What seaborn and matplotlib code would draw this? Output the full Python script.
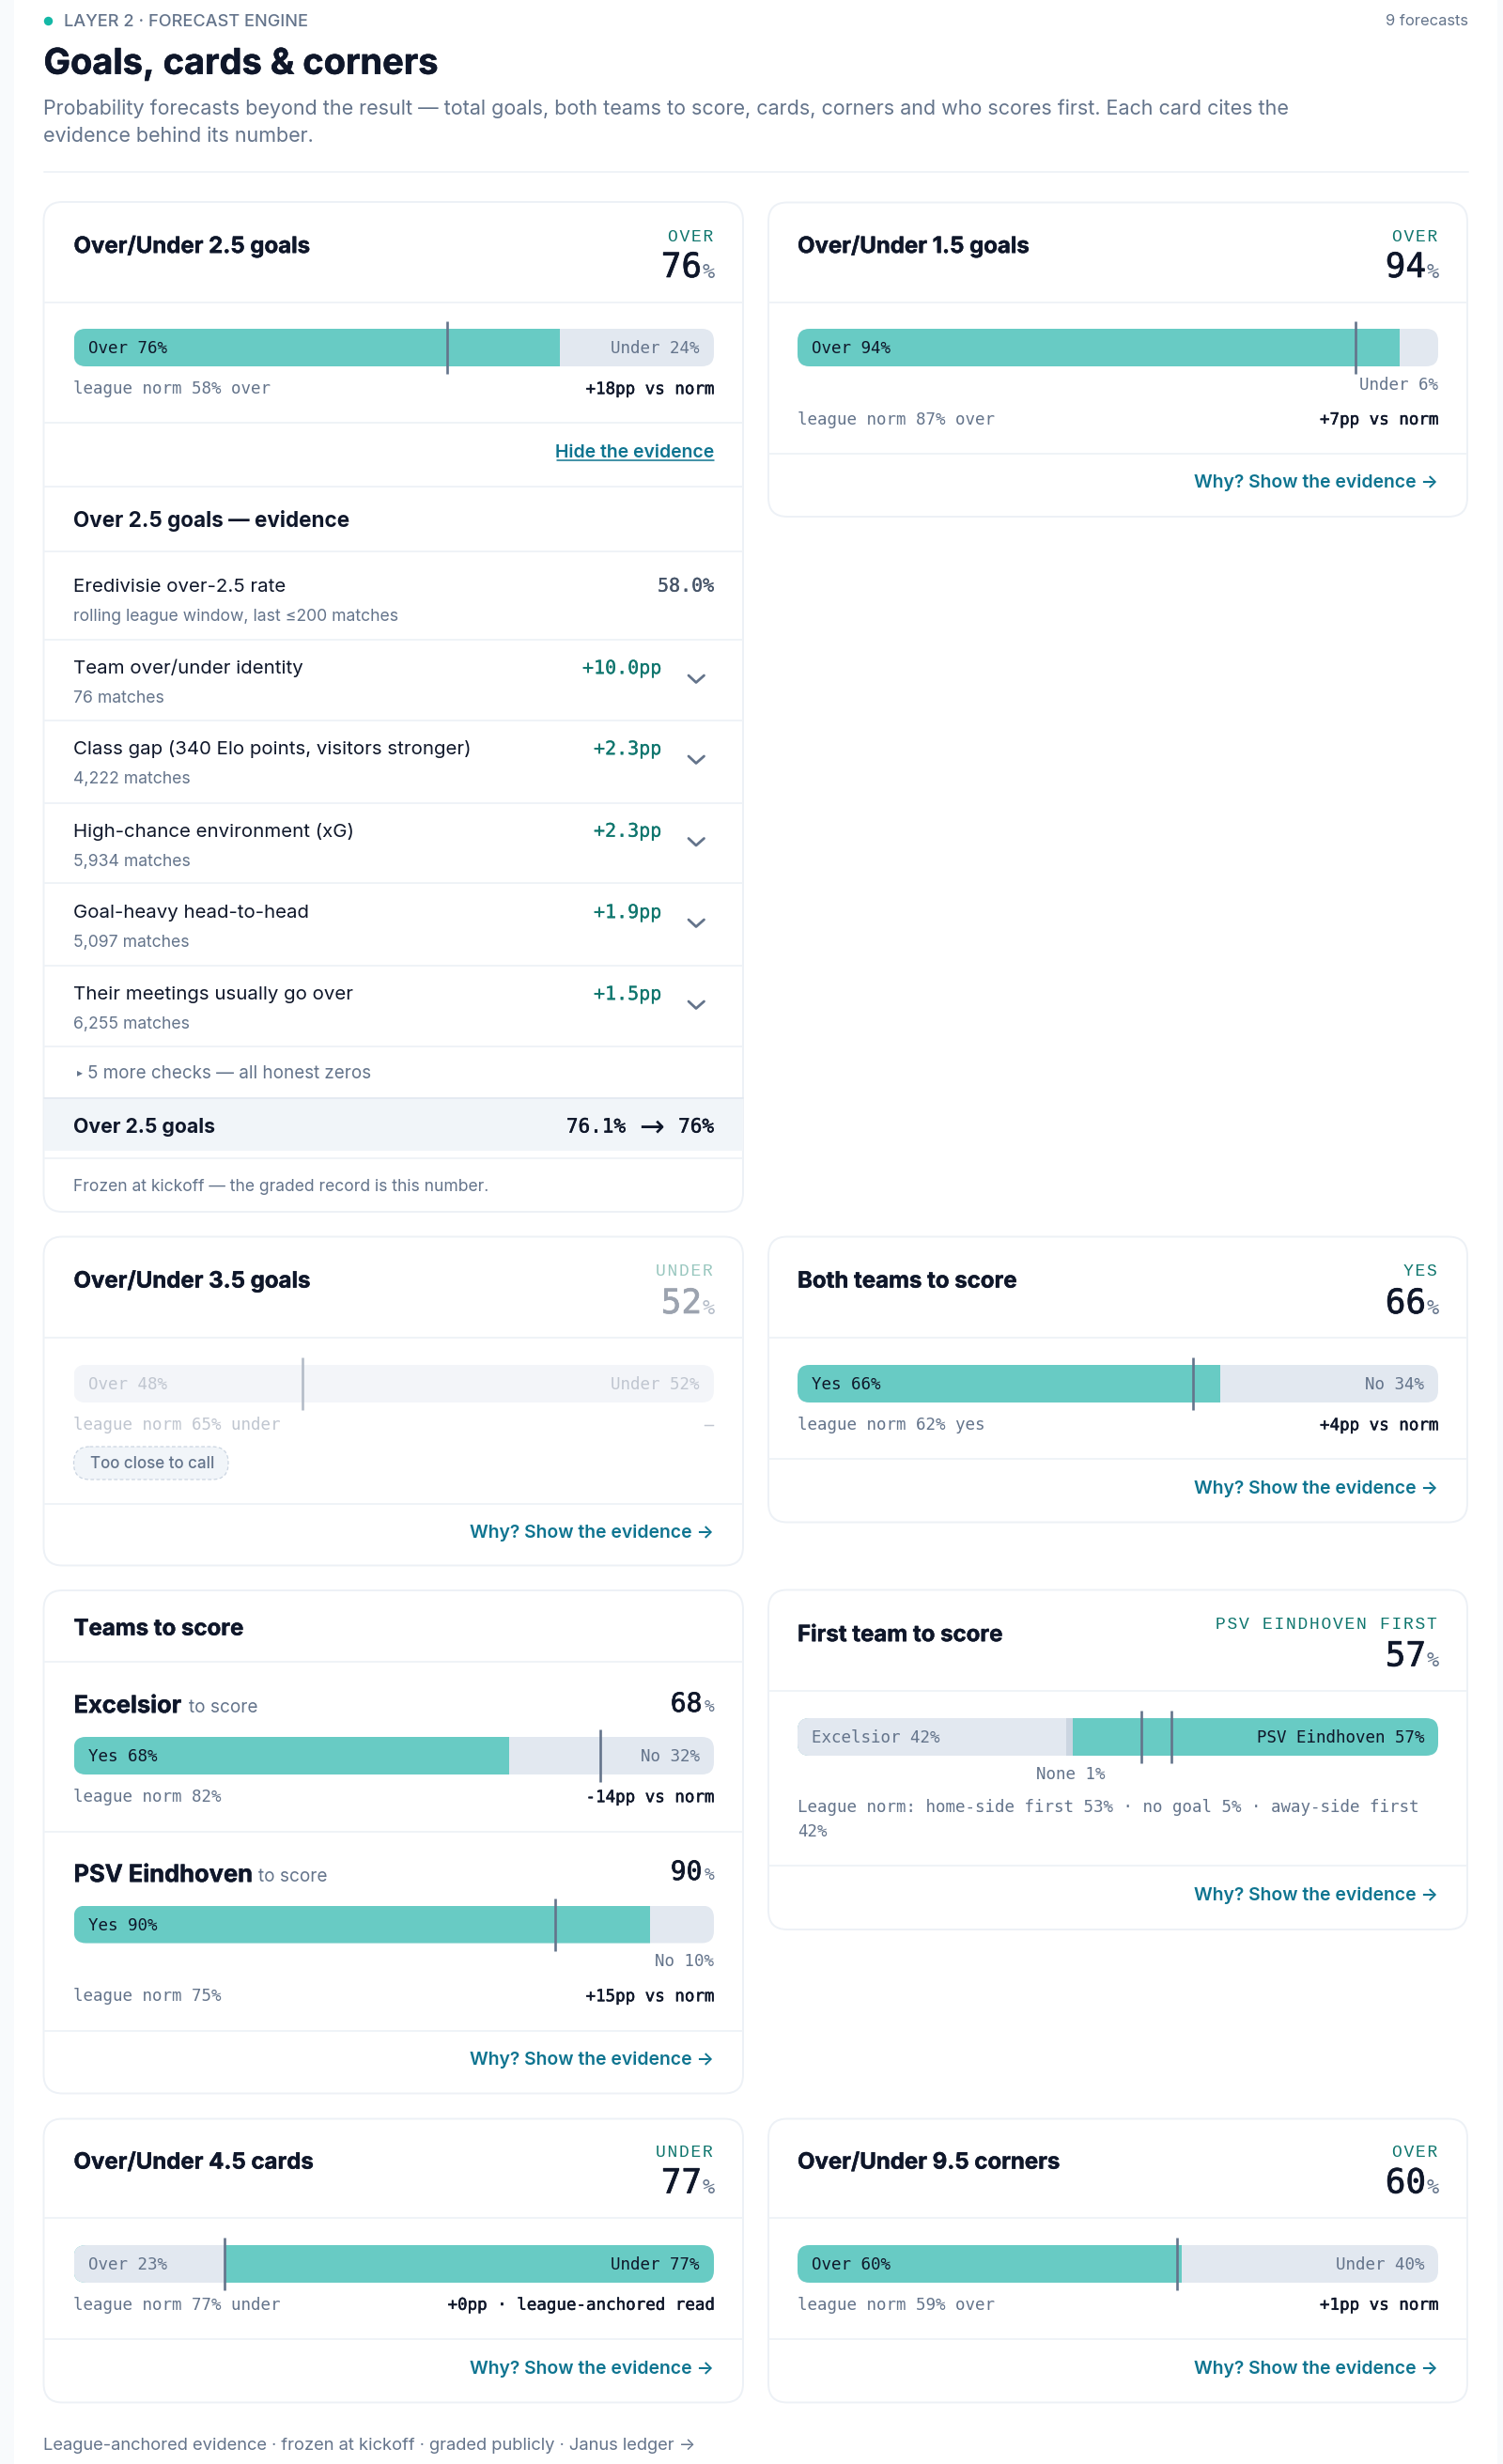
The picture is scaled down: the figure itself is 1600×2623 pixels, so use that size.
import matplotlib
matplotlib.use("Agg")
import matplotlib.pyplot as plt
import matplotlib.patheffects as pe
from matplotlib.patches import FancyBboxPatch, Rectangle
import seaborn as sns

sns.set_theme(style="white")
plt.rcParams["font.family"] = ["Inter", "DejaVu Sans"]

# forecast values
CARD_TITLES = ["Over/Under 2.5 goals", "Over/Under 1.5 goals", "Over/Under 3.5 goals",
               "Both teams to score", "First team to score", "Over/Under 4.5 cards",
               "Over/Under 9.5 corners"]
PICK_NAMES = ["OVER", "OVER", "UNDER", "YES", "PSV EINDHOVEN FIRST", "UNDER", "OVER"]
PICK_PCTS = [76, 94, 52, 66, 57, 77, 60]

BAR_SHARES = [[76, 24], [94, 6], [48, 52], [66, 34], [68, 32], [90, 10], [42, 1, 57], [23.5, 76.5], [60, 40]]
BAR_PICK = [0, 0, None, 0, 0, 0, 2, 1, 0]
BAR_NORMS = [[58.3], [87.1], [35.8], [61.7], [82.2], [75.2], [53.6, 58.3], [23.5], [59.3]]
BAR_LABELS = [["Over 76%", "Under 24%"], ["Over 94%", "Under 6%"], ["Over 48%", "Under 52%"],
              ["Yes 66%", "No 34%"], ["Yes 68%", "No 32%"], ["Yes 90%", "No 10%"],
              ["Excelsior 42%", "None 1%", "PSV Eindhoven 57%"],
              ["Over 23%", "Under 77%"], ["Over 60%", "Under 40%"]]
NORM_TEXTS = ["league norm 58% over", "league norm 87% over", "league norm 65% under",
              "league norm 62% yes", "league norm 82%", "league norm 75%",
              "League norm: home-side first 53% · no goal 5% · away-side first", "league norm 77% under",
              "league norm 59% over"]
DELTA_TEXTS = ["+18pp vs norm", "+7pp vs norm", "—", "+4pp vs norm", "-14pp vs norm", "+15pp vs norm",
               "", "+0pp · league-anchored read", "+1pp vs norm"]

TEAM_NAMES = ["Excelsior", "PSV Eindhoven"]
TEAM_PCTS = [68, 90]

EVIDENCE_NAMES = ["Eredivisie over-2.5 rate", "Team over/under identity",
                  "Class gap (340 Elo points, visitors stronger)", "High-chance environment (xG)",
                  "Goal-heavy head-to-head", "Their meetings usually go over"]
EVIDENCE_NOTES = ["rolling league window, last ≤200 matches", "76 matches", "4,222 matches",
                  "5,934 matches", "5,097 matches", "6,255 matches"]
EVIDENCE_VALUES = ["58.0%", "+10.0pp", "+2.3pp", "+2.3pp", "+1.9pp", "+1.5pp"]

W, H = 1600, 2623
INK = "#0f172a"
SLATE = "#64748b"
TEAL = "#68cbc4"
TRACK = "#e2e8f0"
LINE = "#eff3f7"
LINK = "#0e7490"
PICKED = "#0f766e"
MONO = "DejaVu Sans Mono"
# col: card left, card right, text left, text right
COLS = [(46.5, 791, 78.5, 760), (818, 1562, 849, 1531)]

fig = plt.figure(figsize=(W / 100, H / 100), dpi=100, facecolor="#f8fafc")


def px_axes(x0, y0, x1, y1, z):
    a = fig.add_axes([x0 / W, 1 - y1 / H, (x1 - x0) / W, (y1 - y0) / H], zorder=z)
    a.patch.set_alpha(0)
    a.axis("off")
    return a


bg = px_axes(0, 0, W, H, 0)
bg.set_xlim(0, W)
bg.set_ylim(H, 0)
top = px_axes(0, 0, W, H, 5)
top.set_xlim(0, W)
top.set_ylim(H, 0)


def put(x, yc, s, px, color=INK, ha="left", family=None, weight="normal", bold=0):
    # yc is the middle of the capitals, px the css-like size
    t = top.text(x, yc + 0.36 * px, s, fontsize=px * 0.72, color=color, ha=ha, va="baseline",
                 family=family or ["Inter", "DejaVu Sans"], weight=weight)
    if bold:
        t.set_path_effects([pe.withStroke(linewidth=bold, foreground=color)])
    return t


def card(col, y0, y1, rules):
    x0, x1, _, _ = COLS[col]
    bg.add_patch(FancyBboxPatch((x0, y0), x1 - x0, y1 - y0, boxstyle="round,pad=0,rounding_size=20",
                                fc="white", ec="#edf1f6", lw=1.4))
    for y in rules:
        bg.plot([x0, x1], [y, y], color=LINE, lw=1.4, solid_capstyle="butt")


def header(col, i, y_title, y_pick, y_num, faded=False):
    _, _, L, R = COLS[col]
    put(L, y_title, CARD_TITLES[i], 24, weight="bold", bold=0.3)
    spaced = "\u200a".join(PICK_NAMES[i])
    put(R - 1, y_pick, spaced, 18, color="#99c7bf" if faded else PICKED, ha="right",
        family=["Liberation Mono", "DejaVu Sans"])
    put(R - 13, y_num, str(PICK_PCTS[i]), 36, color="#9ca3af" if faded else INK, ha="right", family=MONO, bold=0.5)
    put(R + 1, y_num + 6, "%", 22, color="#b4bcc8" if faded else SLATE, ha="right", family=MONO)


def draw_bar(col, y0, i, faded=False):
    _, _, L, R = COLS[col]
    shares = BAR_SHARES[i]
    pick = BAR_PICK[i]
    ends = [sum(shares[:k + 1]) for k in range(len(shares))]
    colors = [TEAL if k == pick else TRACK for k in range(len(shares))]
    if len(shares) == 3:
        colors[1] = "#cbd5e1"
    if faded:
        colors = ["#f3f5f9"] * len(shares)
    a = px_axes(L, y0, R, y0 + 40, 1)
    # longest first so the shorter bars stack on top of it
    for end, c in reversed(list(zip(ends, colors))):
        sns.barplot(x=[end], y=[0], orient="h", color=c, saturation=1, width=1, linewidth=0, ax=a)
    a.set_xlim(0, 100)
    a.set_ylim(0.5, -0.5)
    a.axis("off")
    clip = FancyBboxPatch((L, y0), R - L, 40, boxstyle="round,pad=0,rounding_size=13", transform=bg.transData)
    for p in a.patches:
        p.set_clip_path(clip)
    a.vlines(BAR_NORMS[i], -0.7, 0.7, color="#b4bcc8" if faded else SLATE, lw=1.9, clip_on=False)
    # labels on the bar
    labels = BAR_LABELS[i]
    y = y0 + 20
    c_left = "#c0c6d0" if faded else (INK if pick == 0 else "#64748b")
    c_right = "#c0c6d0" if faded else (INK if pick == len(shares) - 1 else "#64748b")
    put(L + 15.5, y, labels[0], 17.5, color=c_left, family=MONO)
    if shares[-1] > 10:
        put(R - 15, y, labels[-1], 17.5, color=c_right, ha="right", family=MONO)


def foot(col, y, i, faded=False):
    _, _, L, R = COLS[col]
    put(L, y, NORM_TEXTS[i], 17.5, color="#c0c6d0" if faded else SLATE, family=MONO)
    if DELTA_TEXTS[i]:
        put(R, y, DELTA_TEXTS[i], 17.5, color="#c0c6d0" if faded else INK, ha="right", family=MONO, bold=0.35)


def why(col, y):
    put(COLS[col][3], y, "Why? Show the evidence →", 19.4, color=LINK, ha="right", weight="semibold")


# page chrome
bg.add_patch(Rectangle((15, 0), 1579, H, fc="white", ec="none"))
bg.scatter([50.5], [21.5], s=46, color="#14b8a6", linewidths=0)
put(67.5, 21.5, "LAYER 2 · FORECAST ENGINE", 18.2, color=SLATE, weight="medium")
put(1563, 21.5, "9 forecasts", 16.5, color=SLATE, ha="right")
put(46.5, 65, "Goals, cards & corners", 38, weight="bold", bold=0.4)
put(46.5, 114, "Probability forecasts beyond the result — total goals, both teams to score, "
    "cards, corners and who scores first. Each card cites the", 21.5, color=SLATE)
put(46.5, 143, "evidence behind its number.", 21.5, color=SLATE)
bg.plot([46.5, 1563], [183, 183], color=LINE, lw=1.4)

# over/under 2.5 with the evidence open
card(0, 215, 1290, [322, 450, 518, 587, 681, 767, 854.5, 940, 1028, 1114, 1232.5])
header(0, 0, 260.5, 251, 282)
draw_bar(0, 350, 0)
foot(0, 413, 0)
put(760, 480.5, "Hide the evidence", 19.4, color=LINK, ha="right", weight="semibold")
top.plot([593, 760], [489.5, 489.5], color=LINK, lw=1.1)
put(78.5, 553, "Over 2.5 goals — evidence", 22.5, weight="bold")
row_y = [622.5, 710, 796, 883.5, 970, 1057]
for k, y in enumerate(row_y):
    put(78.5, y, EVIDENCE_NAMES[k], 20.4)
    put(78.5, y + 32, EVIDENCE_NOTES[k], 17.6, color=SLATE)
    if k == 0:
        put(760, y, EVIDENCE_VALUES[k], 20, color="#475569", ha="right", family=MONO, bold=0.2)
    else:
        put(704, y, EVIDENCE_VALUES[k], 20, color=PICKED, ha="right", family=MONO, bold=0.2)
        top.plot([733, 741, 749.5], [y + 9, y + 16.5, y + 9], color=SLATE, lw=2)
put(82, 1141, "▸", 12, color=SLATE, family="DejaVu Sans")
put(93, 1141, "5 more checks — all honest zeros", 18.8, color=SLATE)
bg.add_patch(Rectangle((46.5, 1169), 744.5, 56, fc="#f1f5f9", ec="none"))
bg.plot([46.5, 791], [1169, 1169], color="#e2e8f0", lw=1.2)
put(78.5, 1198, "Over 2.5 goals", 21.2, weight="bold")
put(666, 1198, "76.1%", 21, ha="right", family=MONO, bold=0.35)
put(694, 1198, "→", 32, ha="center", family="DejaVu Sans")
put(760, 1198, "76%", 21, ha="right", family=MONO, bold=0.35)
put(78.5, 1262, "Frozen at kickoff — the graded record is this number.", 17.5, color=SLATE)

# over/under 1.5
card(1, 215.5, 550, [321.5, 483])
header(1, 1, 260.5, 251, 282)
draw_bar(1, 350, 1)
put(1531, 409, BAR_LABELS[1][1], 17.5, color=SLATE, ha="right", family=MONO)
foot(1, 445.5, 1)
why(1, 512.5)

# over/under 3.5, too close to call
card(0, 1316.5, 1666.5, [1424, 1600.5])
header(0, 2, 1362, 1352, 1385, faded=True)
draw_bar(0, 1453, 2, faded=True)
foot(0, 1516, 2, faded=True)
bg.add_patch(FancyBboxPatch((78.5, 1540), 164.5, 35, boxstyle="round,pad=0,rounding_size=17",
                            fc="#f1f5f9", ec="#cbd5e1", lw=0.9, ls=(0, (3, 2))))
put(96, 1557, "Too close to call", 17, color=SLATE, weight="medium")
why(0, 1630.5)

# both teams to score
card(1, 1316.5, 1620.5, [1424, 1553])
header(1, 3, 1362, 1352, 1385)
draw_bar(1, 1453, 3)
foot(1, 1516, 3)
why(1, 1583)

# teams to score
card(0, 1693, 2228.5, [1769, 1949.5, 2161.5])
put(78.5, 1732, "Teams to score", 24, weight="bold", bold=0.3)
put(78.5, 1814, TEAM_NAMES[0], 25.5, weight="bold", bold=0.3)
put(201, 1816, "to score", 19, color=SLATE)
put(747.5, 1812, str(TEAM_PCTS[0]), 28, ha="right", family=MONO, bold=0.5)
put(761, 1816, "%", 18, color=SLATE, ha="right", family=MONO)
draw_bar(0, 1849, 4)
foot(0, 1912, 4)
put(78.5, 1994, TEAM_NAMES[1], 25.5, weight="bold", bold=0.3)
put(275, 1996, "to score", 19, color=SLATE)
put(747.5, 1991, str(TEAM_PCTS[1]), 28, ha="right", family=MONO, bold=0.5)
put(761, 1995, "%", 18, color=SLATE, ha="right", family=MONO)
draw_bar(0, 2028.5, 5)
put(760, 2087, BAR_LABELS[5][1], 17.5, color=SLATE, ha="right", family=MONO)
foot(0, 2124, 5)
why(0, 2191.5)

# first team to score
card(1, 1692.5, 2054, [1800, 1986])
header(1, 4, 1738.5, 1728, 1760.5)
draw_bar(1, 1829, 6)
put(1140, 1888, BAR_LABELS[6][1], 17.5, color=SLATE, ha="center", family=MONO)
put(849, 1923, NORM_TEXTS[6], 17.5, color=SLATE, family=MONO)
put(849, 1948.5, "42%", 17.5, color=SLATE, family=MONO)
why(1, 2016)

# cards and corners
card(0, 2255.5, 2557.5, [2361, 2490])
header(0, 5, 2300, 2290, 2321.5)
draw_bar(0, 2390, 7)
foot(0, 2452.5, 7)
why(0, 2520)
card(1, 2255.5, 2557.5, [2361, 2490])
header(1, 6, 2300, 2290, 2321.5)
draw_bar(1, 2390, 8)
foot(1, 2452.5, 8)
why(1, 2520)

put(46.5, 2601.5, "League-anchored evidence · frozen at kickoff · graded publicly · Janus ledger →", 18.4, color=SLATE)

fig.savefig("out.png", dpi=100, facecolor=fig.get_facecolor())
